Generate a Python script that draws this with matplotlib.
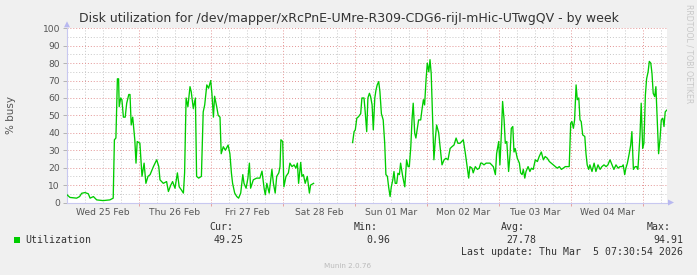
import matplotlib
matplotlib.use('Agg')
import matplotlib.pyplot as plt

# Hours since Wed 25 Feb 00:00, % busy
seg1_hours = [0, 1, 3.2, 4.2, 4.9, 6, 7.1, 7.7, 8.8, 9.9, 12, 14.3, 15.4, 15.8, 16.3,
              16.8, 17.2, 17.4, 17.9, 18.3, 18.8, 19.4, 19.9, 20.6, 21, 21.4, 21.9,
              22.6, 23, 23.4, 24.3, 25, 25.7, 26.3, 27, 27.7, 28.8, 29.9, 30.6, 31,
              32.1, 33.2, 33.8, 34.6, 35.2, 36, 36.8, 37.4, 38.1, 38.8, 39.2, 39.7,
              40.3, 41, 41.4, 42.1, 42.8, 43.2, 43.9, 44.8, 45.4, 45.9, 46.6, 47.2,
              47.9, 48.3, 48.8, 49.2, 49.9, 50.4, 51, 51.4, 52.1, 52.8, 53.7, 54.3,
              54.8, 55.2, 55.9, 56.6, 57.2, 57.9, 58.6, 59, 59.7, 60.3, 60.8, 61.2,
              62.1, 63.2, 64.3, 65, 65.7, 66.1, 66.6, 67.4, 68.3, 68.8, 69.4, 69.9,
              70.6, 71, 71.3, 71.9, 72.3, 73, 73.8, 74.3, 75, 75.7, 76.3, 76.8, 77.2,
              77.9, 78.3, 78.8, 79.4, 80.1, 80.8, 81.2, 82.2]
seg1_busy = [4.4, 2.9, 2.5, 3.4, 5.3, 5.7, 5, 2.5, 3.4, 1.5, 1.1, 1.5, 2.5, 36, 37,
             71, 71, 55, 60, 59, 49, 49, 57, 62, 62, 44.5, 49,
             36, 22.6, 35, 34, 15, 22.6, 11, 15, 16, 20.6, 24.5, 20.6, 13,
             11, 12, 6.3, 10, 12, 8.2, 17, 9, 7.3, 5.4, 17, 60,
             55, 66.5, 63.7, 54, 60, 15, 14, 15, 52, 56, 67.5, 65.6,
             70, 62.7, 49, 61, 55, 50, 49, 28, 32, 30, 33, 28,
             17, 11, 5.4, 3.4, 2.5, 5.4, 16, 11, 8.2, 14, 22.6, 8.2,
             13, 14, 14, 18, 8.2, 4.4, 11, 5.4, 19, 11, 5.4, 15,
             17, 20.6, 36, 35, 9, 15, 17, 22.6, 20.6, 21.6, 19.7, 22.6, 11,
             23, 15, 16, 11, 15, 5.4, 10, 11]

seg2_hours = [95.2, 95.7, 96.1, 96.6, 97.2, 97.9, 98.3, 99, 99.4, 99.9, 100.3, 100.8,
              101.2, 101.7, 102.1, 102.6, 103, 103.4, 103.9, 104.3, 104.8, 105.4,
              105.9, 106.3, 106.8, 107.2, 107.7, 108.1, 108.6, 109, 109.4, 109.9,
              110.3, 110.8, 111.2, 111.9, 112.6, 113.2, 113.7, 114.1, 114.6, 115,
              115.4, 115.9, 116.3, 116.8, 117.2, 117.9, 118.3, 118.8, 119.2, 119.7,
              120.1, 120.6, 121, 121.4, 121.9, 122.3, 122.8, 123.2, 123.9, 124.3,
              125, 125.7, 126.3, 127, 127.7, 128.3, 129, 129.7, 130.3,
              131, 132.1, 132.8, 133.4, 133.9, 134.3, 135, 135.4, 136.1, 136.8,
              137.4, 137.9, 138.3, 139, 139.7, 141, 142.1, 142.8, 143.2, 143.9,
              144.3, 144.8, 145.2, 145.7, 146.1, 146.6, 147.2, 147.7, 148.1, 148.6,
              149, 149.4, 150.1, 150.8, 151.2, 151.7, 152.1, 152.6, 153, 153.7,
              154.3, 154.8, 155.4, 156.1, 156.8, 157.4, 158.1, 158.8, 159.4, 160.1,
              160.8, 161.4, 162.1, 162.8, 163.4, 164.1, 164.8, 165.4, 166.1, 166.8,
              167.4, 167.9, 168.3, 168.8, 169.2, 169.7, 170.1, 170.6, 171, 171.4,
              171.9, 172.6, 173, 173.4, 173.9, 174.3, 175, 175.7, 176.3, 177, 177.7,
              178.3, 179, 179.7, 180.3, 181, 181.7, 182.3, 183, 183.7, 184.3, 185,
              185.4, 185.9, 186.3, 186.8, 187.4, 187.9, 188.3, 188.8, 189.4, 189.9,
              190.3, 191, 191.4, 191.9, 192.3, 192.8, 193.2, 193.7, 194.1, 194.6,
              195, 195.4, 195.9, 196.3, 196.8, 197.2, 197.7, 198.1, 198.6, 199,
              199.4, 199.9]
seg2_busy = [34.4, 40.7, 41.7, 48.4, 49.3, 51, 60, 60, 52, 40.7, 60, 62.7,
             60.8, 56, 41.7, 60, 64.6, 67.5, 69.4, 63.7, 51, 47.4,
             34, 16, 15, 9, 3.4, 9, 13, 17.8, 11, 11,
             16.8, 16, 22.6, 15, 9, 24.5, 20.6, 20.6, 32, 47.4,
             57, 39.8, 37, 42.6, 47.4, 47.4, 53, 59, 56, 71,
             80, 75, 82, 74, 47.4, 24.5, 37, 44.5, 40, 33,
             21.6, 24.5, 25.4, 24.5, 31, 32, 33, 37, 34,
             34, 36, 28, 20.6, 14, 20.6, 19.7, 17, 20.6, 19,
             19.7, 22.6, 22.6, 21.6, 22.6, 22.6, 20.6, 16, 28, 35,
             21.6, 40, 58, 47.4, 34, 35, 17.8, 28, 42.6, 43.6,
             29, 31, 25.4, 22.6, 17, 16, 19, 14, 17.8, 20.6,
             17.8, 19.7, 19, 24.5, 23.5, 26.4, 29, 24.5, 26.4, 25.4,
             23.5, 22.6, 21.6, 20.6, 19.7, 20.6, 19, 19.7, 20.6, 20.6,
             20.6, 45.5, 46.5, 42.6, 47.4, 67.5, 59, 60, 47.4, 46.5,
             38.8, 37.9, 28, 21.6, 19, 21.6, 17.8, 22.6, 17.8, 21.6, 19,
             20.6, 21.6, 20.6, 21.6, 24.5, 21.6, 19, 21.6, 19.7, 20.6, 20.6,
             21.6, 16, 19.7, 22.6, 28, 33, 40.7, 19, 20.6, 20.6,
             19, 38.8, 57, 31, 34, 61.8, 71, 75, 81, 80,
             74, 62.7, 60.8, 66.5, 45.5, 28, 37, 47.4, 48.4, 43.6,
             52, 53]

day_labels = ['Wed 25 Feb', 'Thu 26 Feb', 'Fri 27 Feb', 'Sat 28 Feb',
              'Sun 01 Mar', 'Mon 02 Mar', 'Tue 03 Mar', 'Wed 04 Mar']
legend_stats = {'Cur:': '49.25', 'Min:': '0.96', 'Avg:': '27.78', 'Max:': '94.91'}
last_update = 'Last update: Thu Mar  5 07:30:54 2026'

W, H = 697, 275
fig = plt.figure(figsize=(W / 100, H / 100), dpi=100, facecolor='#f0f0f0')

left, right, top, bottom = 67, 667, 28.3, 202.5
ax = fig.add_axes([left / W, 1 - bottom / H, (right - left) / W, (bottom - top) / H])
ax.set_facecolor('white')
ax.set_xlim(0, 200)
ax.set_ylim(0, 100)

dot = (0, (1, 2))
for h in range(6, 200, 6):
    if h % 24:
        ax.axvline(h, color='#c8c8c8', lw=0.7, ls=dot, zorder=1)
for v in range(5, 100, 10):
    ax.axhline(v, color='#c8c8c8', lw=0.7, ls=dot, zorder=1)
for h in range(24, 200, 24):
    ax.axvline(h, color='#e49494', lw=0.7, ls=dot, zorder=1)
for v in range(10, 101, 10):
    ax.axhline(v, color='#e49494', lw=0.7, ls=dot, zorder=1)

ax.plot(seg1_hours, seg1_busy, color='#00cc00', lw=0.95, zorder=3)
ax.plot(seg2_hours, seg2_busy, color='#00cc00', lw=0.95, zorder=3)

for s in ['top', 'right']:
    ax.spines[s].set_visible(False)
for s in ['left', 'bottom']:
    ax.spines[s].set_color('#c8c8f0')
    ax.spines[s].set_linewidth(0.8)

# arrows at axis ends
fig.patches.append(plt.Polygon([[(right + 1) / W, 1 - (bottom - 3) / H],
                                [(right + 1) / W, 1 - (bottom + 3) / H],
                                [(right + 7) / W, 1 - bottom / H]],
                               closed=True, transform=fig.transFigure,
                               color='#b8b8f0', lw=0))
fig.patches.append(plt.Polygon([[(left - 3) / W, 1 - (top - 1) / H],
                                [(left + 3) / W, 1 - (top - 1) / H],
                                [left / W, 1 - (top - 7) / H]],
                               closed=True, transform=fig.transFigure,
                               color='#b8b8f0', lw=0))

ax.set_yticks(range(0, 101, 10))
ax.tick_params(axis='y', length=3, width=0.6, color='#aaaaaa', labelsize=6.6,
               labelcolor='#555555', pad=2)
ax.set_xticks(range(24, 200, 24))
ax.set_xticklabels([])
ax.tick_params(axis='x', which='major', length=2, width=0.6, color='#e49494')
ax.set_xticks([12 + 24 * i for i in range(len(day_labels))], minor=True)
ax.set_xticklabels(day_labels, minor=True)
ax.tick_params(axis='x', which='minor', length=0, labelsize=6.6,
               labelcolor='#555555', pad=4)

fig.text(349 / W, 1 - 18.5 / H,
         'Disk utilization for /dev/mapper/xRcPnE-UMre-R309-CDG6-rijI-mHic-UTwgQV - by week',
         ha='center', va='center', fontsize=9, color='#333333')
fig.text(11 / W, 1 - 115 / H, '% busy', rotation=90, ha='center', va='center',
         fontsize=7.5, color='#555555')
fig.text(689 / W, 1 - 54 / H, 'RRDTOOL / TOBI OETIKER', rotation=270,
         ha='center', va='center', fontsize=5.6, color='#c8c8c8')

mono = dict(family='DejaVu Sans Mono', fontsize=7.1, color='#333333', va='center')
fig.patches.append(plt.Rectangle((14 / W, 1 - 242.5 / H), 6 / W, 6 / H,
                                 transform=fig.transFigure, color='#00cc00', lw=0))
fig.text(25 / W, 1 - 240 / H, 'Utilization', ha='left', **mono)
head_x = [209, 354, 501, 647]
val_x = [243.6, 390, 536, 683]
for (name, val), hx, vx in zip(legend_stats.items(), head_x, val_x):
    fig.text(hx / W, 1 - 227.5 / H, name, ha='left', **mono)
    fig.text(vx / W, 1 - 240 / H, val, ha='right', **mono)
fig.text(683 / W, 1 - 252 / H, last_update, ha='right', **mono)
fig.text(348 / W, 1 - 266 / H, 'Munin 2.0.76', ha='center', va='center',
         fontsize=5.2, color='#bbbbbb')

fig.savefig('out.png', dpi=100, facecolor=fig.get_facecolor())
